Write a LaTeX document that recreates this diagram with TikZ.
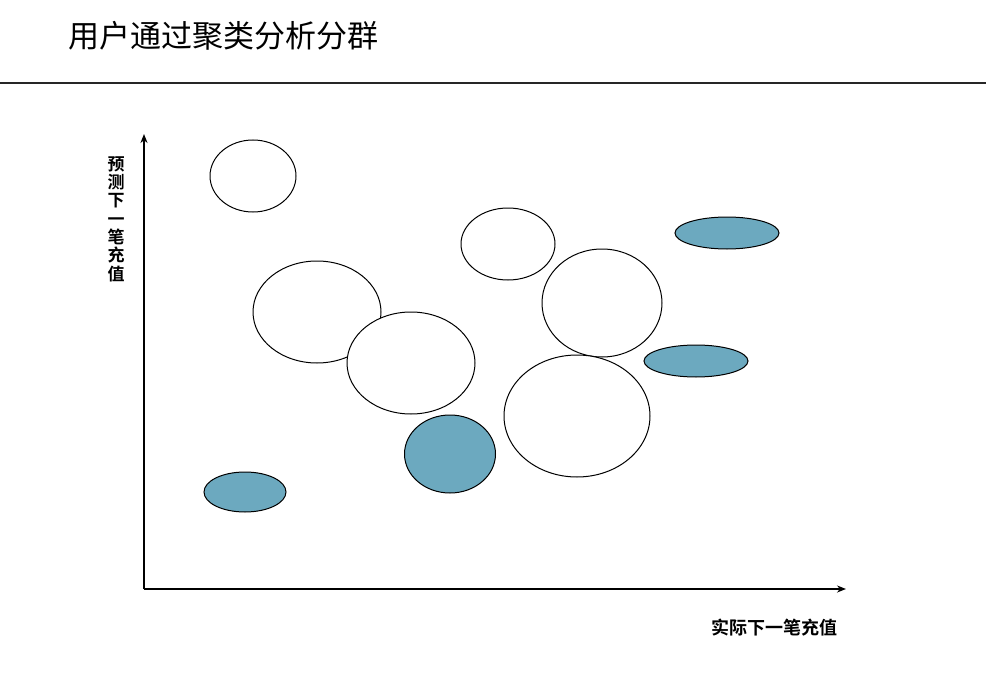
\documentclass[tikz,border=0pt]{standalone}
\usepackage{fontspec}
\newfontfamily\cjk{Noto Sans CJK SC}
\newfontfamily\cjkbold{Noto Sans CJK SC Bold}
\usetikzlibrary{shapes.geometric,arrows.meta}
\definecolor{clusterblue}{HTML}{6CA9BF}
\begin{document}
\begin{tikzpicture}[x=1pt,y=-1pt,
  cluster/.style={ellipse,draw=black,line width=1pt,inner sep=0pt},
  plain/.style={cluster,fill=white},
  hot/.style={cluster,fill=clusterblue},
  axis/.style={line width=1.8pt,-{Stealth[length=9pt,width=7pt]}},
  lbl/.style={inner sep=0pt}]
\fill[white] (0,0) rectangle (986,693);
\useasboundingbox (0,0) rectangle (986,693);
\node[anchor=west,inner sep=0pt,font=\cjk\fontsize{31}{34}\selectfont] (title) at (68,36) {用户通过聚类分析分群};
\coordinate (l0) at (0,83);
\coordinate (l1) at (986,83);
\draw[line width=1.2pt,black!85] (l0) -- (l1);
% axes
\coordinate (o) at (144,589);
\coordinate (ytop) at (144,134);
\coordinate (xend) at (846,589);
\draw[axis] (o) -- (ytop);
\draw[axis] (o) -- (xend);
\node[lbl,align=center,font=\cjkbold\fontsize{17}{18.3}\selectfont] (ylab) at (116,219) {预\\测\\下\\一\\笔\\充\\值};
\node[lbl,font=\cjkbold\fontsize{18}{20}\selectfont] (xlab) at (774,628) {实际下一笔充值};
% clusters
\node[plain,minimum width=86pt,minimum height=72pt] (c1) at (253,176) {};
\node[plain,minimum width=94pt,minimum height=72pt] (c2) at (508,244) {};
\node[hot,minimum width=104pt,minimum height=32pt] (c3) at (727,233) {};
\node[plain,minimum width=128pt,minimum height=102pt] (c4) at (317,312) {};
\node[plain,minimum width=120pt,minimum height=108pt] (c5) at (602,303) {};
\node[hot,minimum width=104pt,minimum height=32pt] (c6) at (696,361) {};
\node[plain,minimum width=128pt,minimum height=102pt] (c7) at (411,363) {};
\node[plain,minimum width=146pt,minimum height=122pt] (c8) at (577,416) {};
\node[hot,minimum width=91pt,minimum height=78pt] (c9) at (450,454) {};
\node[hot,minimum width=82pt,minimum height=40pt] (c10) at (245,492) {};
\end{tikzpicture}
\end{document}
